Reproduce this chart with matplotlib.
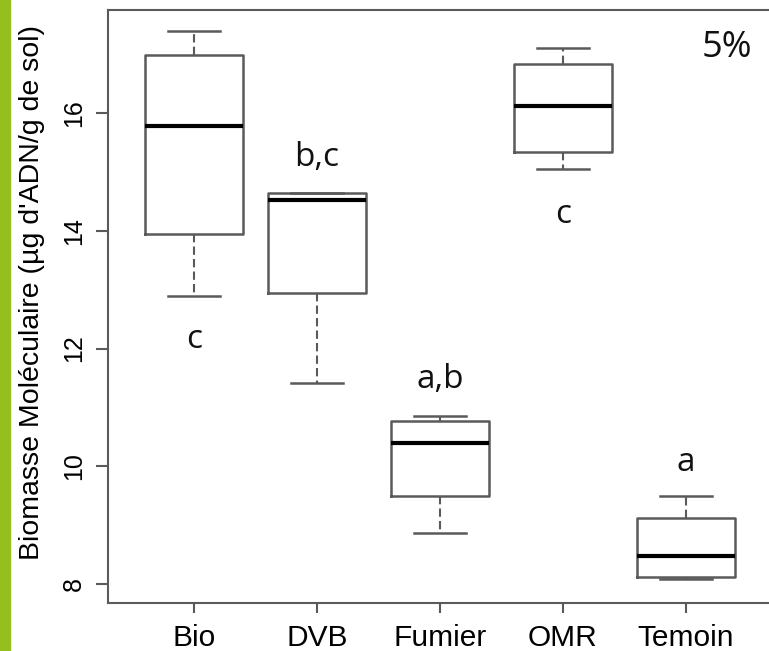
import matplotlib.pyplot as plt
from matplotlib.patches import Rectangle

# Biomasse moléculaire par traitement (résumé des boîtes)
traitements = ['Bio', 'DVB', 'Fumier', 'OMR', 'Temoin']
moustache_basse = [12.89, 11.42, 8.87, 15.05, 8.09]
q1 = [13.94, 12.94, 9.50, 15.34, 8.12]
mediane = [15.78, 14.52, 10.40, 16.12, 8.48]
q3 = [16.99, 14.64, 10.77, 16.83, 9.12]
moustache_haute = [17.40, 14.64, 10.86, 17.11, 9.50]

# Groupes statistiques et position verticale des lettres
lettres = ['c', 'b,c', 'a,b', 'c', 'a']
y_lettres = [12.15, 15.24, 11.47, 14.27, 10.06]

stats = []
for i in range(len(traitements)):
    stats.append({'med': mediane[i], 'q1': q1[i], 'q3': q3[i],
                  'whislo': moustache_basse[i], 'whishi': moustache_haute[i],
                  'label': traitements[i]})

plt.rcParams['font.family'] = ['Liberation Sans', 'DejaVu Sans']

fig = plt.figure(figsize=(7.69, 6.51), dpi=100)
fig.patches.append(Rectangle((0, 0), 10 / 769, 1, transform=fig.transFigure,
                             color='#95bf1f', zorder=0))
ax = fig.add_axes([108 / 769, 48 / 651, 664 / 769, 593 / 651])

gris = '#5a5a5a'
pos = range(1, len(traitements) + 1)
ax.bxp(stats, positions=pos, widths=0.8, showfliers=False,
       boxprops=dict(color=gris, linewidth=1.8),
       medianprops=dict(color='black', linewidth=3),
       whiskerprops=dict(color=gris, linewidth=1.5, linestyle=(0, (4, 2))),
       capprops=dict(color=gris, linewidth=1.8),
       capwidths=0.42)

for i, (l, y) in enumerate(zip(lettres, y_lettres)):
    ax.text(i + 1, y, l, ha='center', va='center', fontsize=24,
            family='Open Sans', color='#111111')
ax.text(5.33, 17.1, '5%', ha='center', va='center', fontsize=26,
        family='Open Sans', color='#111111')

ax.set_xlim(0.3, 5.7)
ax.set_ylim(7.68, 17.75)
ax.set_yticks([8, 10, 12, 14, 16])
ax.set_xticks(list(pos))
ax.set_xticklabels(traitements)
ax.tick_params(axis='y', labelrotation=90, length=9, width=1.5, color=gris,
               labelsize=18, pad=7)
ax.tick_params(axis='x', length=7, width=1.5, color=gris, labelsize=21.5, pad=8)
for lab in ax.get_yticklabels():
    lab.set_va('center')
for s in ['left', 'top', 'bottom', 'right']:
    ax.spines[s].set_color(gris)
    ax.spines[s].set_linewidth(1.5)
ax.set_ylabel("Biomasse Moléculaire (µg d'ADN/g de sol)", fontsize=20.5)
ax.yaxis.set_label_coords(-0.095, 0.523)

plt.savefig('out.png', dpi=100)
